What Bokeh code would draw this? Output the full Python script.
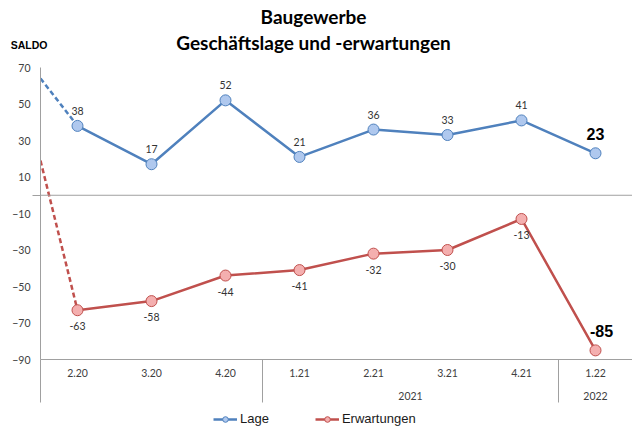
from bokeh.plotting import figure
from bokeh.layouts import column
from bokeh.models import (FixedTicker, LinearAxis, Span, Label, Legend,
                          LegendItem, Range1d)
from bokeh.core.properties import value
from bokeh.embed import file_html
from bokeh.resources import INLINE

# ---- data ----
quarters = ["2.20", "3.20", "4.20", "1.21", "2.21", "3.21", "4.21", "1.22"]
lage = [38, 17, 52, 21, 36, 33, 41, 23]
erwartungen = [-63, -58, -44, -41, -32, -30, -13, -85]
# values at which the dashed lead-in lines enter the chart at its left edge
lage_lead_in = 64
erw_lead_in = 19
years = ["2021", "2022"]
year_centers = [4.5, 7]
y_ticks = [70, 50, 30, 10, -10, -30, -50, -70, -90]
title_lines = ["Baugewerbe", "Geschäftslage und -erwartungen"]
unit_label = "SALDO"
series_names = ["Lage", "Erwartungen"]

x = list(range(len(quarters)))
BLUE = "#4F81BD"
BLUE_FILL = "#AFC8EE"
RED = "#C0504D"
RED_FILL = "#F4AFAF"
GRAY = "#A0A0A0"
TICK_FONT = "Lato"
FS = "10.5px"


def bare(fig):
    fig.outline_line_color = None
    fig.xgrid.visible = False
    fig.ygrid.visible = False
    fig.background_fill_color = "white"
    fig.border_fill_color = "white"


# ---------------- title strip ----------------
top = figure(width=632, height=59, output_backend="svg", toolbar_location=None,
             x_range=Range1d(0, 1), y_range=Range1d(0, 59),
             x_axis_location=None, y_axis_location=None, title_location=None,
             min_border_left=0, min_border_right=0, min_border_top=0,
             min_border_bottom=0)
bare(top)
for txt, yy in zip(title_lines, [43, 17]):
    top.add_layout(Label(x=273, y=yy, x_units="screen", y_units="screen", text=txt,
                         text_align="center", text_baseline="alphabetic",
                         text_font="Lato", text_font_style="bold",
                         text_font_size="19px", text_color="#000000"))
# "SALDO" as the single label of a value-axis stub above the chart
saldo_axis = LinearAxis(ticker=FixedTicker(ticks=[15], minor_ticks=[]),
                        major_label_overrides={15: unit_label})
saldo_axis.axis_line_color = None
saldo_axis.major_tick_line_color = None
saldo_axis.minor_tick_line_color = None
saldo_axis.major_tick_in = 0
saldo_axis.major_tick_out = 0
saldo_axis.major_label_standoff = -7
saldo_axis.major_label_text_font = "Liberation Sans"
saldo_axis.major_label_text_font_style = "bold"
saldo_axis.major_label_text_font_size = "10.5px"
saldo_axis.major_label_text_color = "#000000"
top.add_layout(saldo_axis, "left")

# ---------------- main chart ----------------
p = figure(width=632, height=347, output_backend="svg", toolbar_location=None,
           x_range=Range1d(-0.5, 7.5), y_range=Range1d(-90, 70),
           min_border_left=40, min_border_right=0, min_border_top=8,
           min_border_bottom=47, title_location=None)
bare(p)

ya = p.yaxis[0]
ya.ticker = FixedTicker(ticks=y_ticks, minor_ticks=[0])
ya.major_tick_line_color = None
ya.major_tick_in = 0
ya.major_tick_out = 0
ya.minor_tick_in = 0
ya.minor_tick_out = 8
ya.minor_tick_line_color = GRAY
ya.axis_line_color = GRAY
ya.major_label_standoff = 2
ya.major_label_text_font = TICK_FONT
ya.major_label_text_font_size = FS
ya.major_label_text_color = "#404040"

# quarter axis, group separators drawn as long minor ticks
xa = p.xaxis[0]
xa.ticker = FixedTicker(ticks=x, minor_ticks=[-0.5, 2.5, 6.5])
xa.major_label_overrides = {i: q for i, q in zip(x, quarters)}
xa.major_tick_line_color = None
xa.major_tick_in = 0
xa.major_tick_out = 0
xa.minor_tick_in = 0
xa.minor_tick_out = 43
xa.minor_tick_line_color = GRAY
xa.axis_line_color = GRAY
xa.major_label_standoff = -34
xa.major_label_text_font = TICK_FONT
xa.major_label_text_font_size = FS
xa.major_label_text_color = "#404040"

# year axis
yr = LinearAxis(ticker=FixedTicker(ticks=year_centers, minor_ticks=[]),
                major_label_overrides={c: t for c, t in zip(year_centers, years)})
yr.axis_line_color = None
yr.major_tick_line_color = None
yr.minor_tick_line_color = None
yr.major_tick_in = 0
yr.major_tick_out = 0
yr.major_label_standoff = 12
yr.major_label_text_font = TICK_FONT
yr.major_label_text_font_size = FS
yr.major_label_text_color = "#404040"
p.add_layout(yr, "below")

p.add_layout(Span(location=0, dimension="width", line_color=GRAY, line_width=1))

p.line([-0.5, 0], [lage_lead_in, lage[0]], line_color=BLUE, line_width=2.5,
       line_dash="5 3")
p.line([-0.5, 0], [erw_lead_in, erwartungen[0]], line_color=RED, line_width=2.5,
       line_dash="5 3")

p.line(x, lage, line_color=BLUE, line_width=2.5)
p.scatter(x, lage, size=11, fill_color=BLUE_FILL, line_color=BLUE, line_width=1)
p.line(x, erwartungen, line_color=RED, line_width=2.5)
p.scatter(x, erwartungen, size=11, fill_color=RED_FILL, line_color=RED, line_width=1)

p.text(x[:-1], lage[:-1], text=[str(v) for v in lage[:-1]], y_offset=-15,
       text_align="center", text_baseline="middle", text_font=value(TICK_FONT),
       text_font_size=FS, text_color="#333333")
p.text(x[:-1], erwartungen[:-1], text=[str(v) for v in erwartungen[:-1]], y_offset=16,
       text_align="center", text_baseline="middle", text_font=value(TICK_FONT),
       text_font_size=FS, text_color="#333333")
p.text(x[-1:], lage[-1:], text=[str(lage[-1])], y_offset=-19,
       text_align="center", text_baseline="middle", text_font=value("Liberation Sans"),
       text_font_style="bold", text_font_size="16px", text_color="#000000")
p.text(x[-1:], erwartungen[-1:], text=[str(erwartungen[-1])], x_offset=6, y_offset=-19,
       text_align="center", text_baseline="middle", text_font=value("Liberation Sans"),
       text_font_style="bold", text_font_size="16px", text_color="#000000")

# ---------------- legend strip ----------------
# the series are drawn here outside the visible range only to feed the legend glyphs
leg = figure(width=632, height=22, output_backend="svg", toolbar_location=None,
             x_range=Range1d(100, 101), y_range=Range1d(0, 1),
             x_axis_location=None, y_axis_location=None, title_location=None,
             min_border_left=0, min_border_right=0, min_border_top=0,
             min_border_bottom=0)
bare(leg)
lr1 = leg.line(x, lage, line_color=BLUE, line_width=2.5)
ls1 = leg.scatter(x, lage, size=11, fill_color=BLUE_FILL, line_color=BLUE, line_width=1)
lr2 = leg.line(x, erwartungen, line_color=RED, line_width=2.5)
ls2 = leg.scatter(x, erwartungen, size=11, fill_color=RED_FILL, line_color=RED, line_width=1)
legend = Legend(items=[LegendItem(label=series_names[0], renderers=[lr1, ls1]),
                       LegendItem(label=series_names[1], renderers=[lr2, ls2])],
                location=(173, 2), orientation="horizontal",
                border_line_color=None, background_fill_alpha=0,
                padding=0, margin=0, spacing=46, glyph_width=24, glyph_height=14,
                label_height=14, label_width=10,
                label_standoff=3, label_text_font="Liberation Sans",
                label_text_font_size="13px", label_text_color="#1a1a1a")
leg.add_layout(legend)

layout = column(top, p, leg, spacing=0)
open("out.html", "w").write(file_html(layout, INLINE))
